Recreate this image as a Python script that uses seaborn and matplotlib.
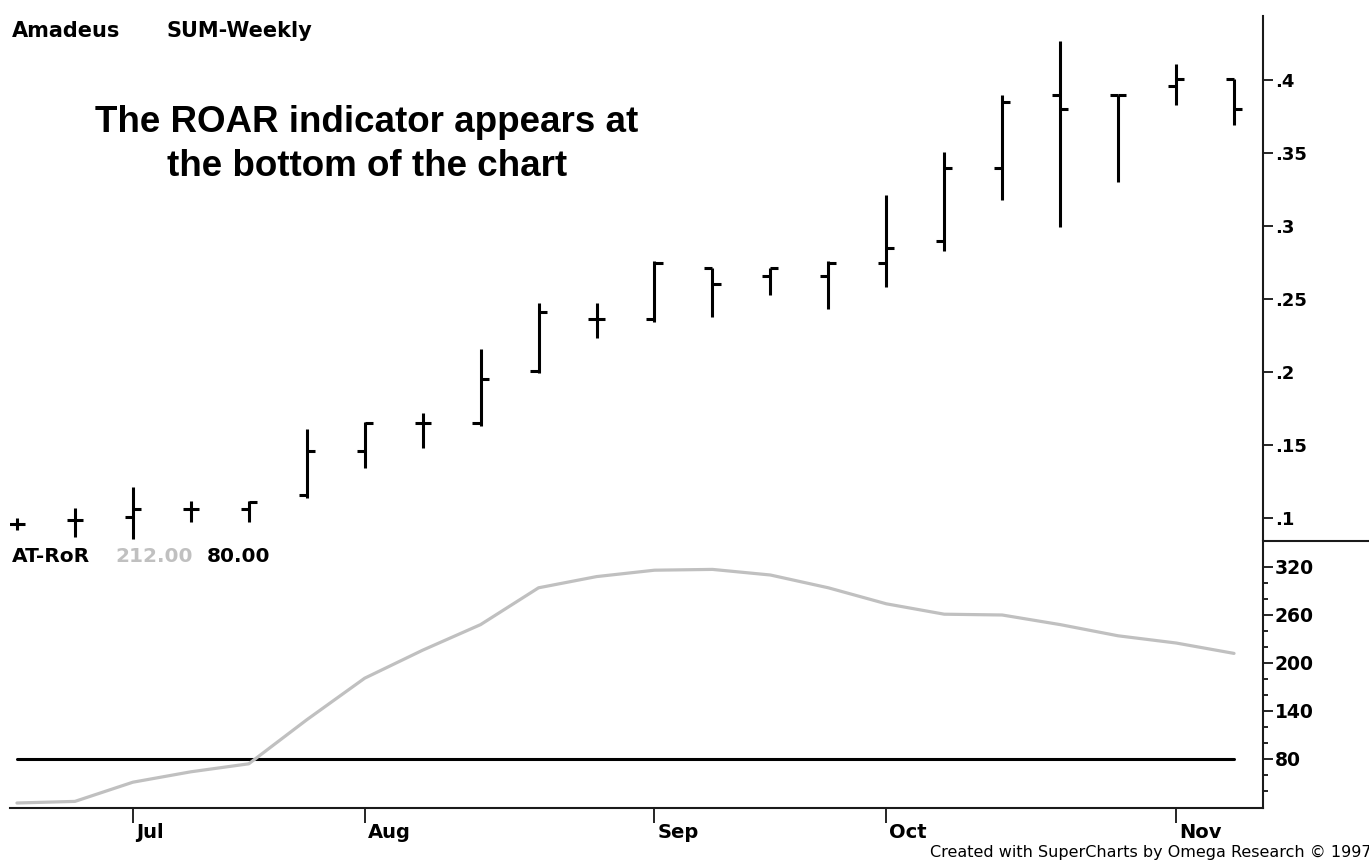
import matplotlib
matplotlib.use("Agg")
import matplotlib.pyplot as plt
import matplotlib.transforms as mtransforms
from matplotlib.lines import Line2D
import seaborn as sns
import numpy as np
import pandas as pd

# ---------------- data ----------------
opens = [0.096, 0.099, 0.101, 0.106, 0.106, 0.116, 0.146, 0.165, 0.165, 0.201, 0.236,
         0.236, 0.271, 0.266, 0.266, 0.275, 0.290, 0.340, 0.390, 0.390, 0.396, 0.401]
highs = [0.100, 0.107, 0.121, 0.112, 0.112, 0.161, 0.166, 0.172, 0.216, 0.247, 0.247,
         0.276, 0.271, 0.271, 0.276, 0.321, 0.351, 0.390, 0.427, 0.390, 0.411, 0.401]
lows = [0.092, 0.087, 0.086, 0.097, 0.097, 0.114, 0.134, 0.148, 0.163, 0.199, 0.223,
        0.234, 0.238, 0.253, 0.243, 0.258, 0.283, 0.318, 0.299, 0.330, 0.383, 0.369]
closes = [0.096, 0.099, 0.106, 0.106, 0.111, 0.146, 0.165, 0.165, 0.195, 0.241, 0.236,
          0.275, 0.260, 0.271, 0.275, 0.285, 0.340, 0.385, 0.380, 0.390, 0.401, 0.380]
ror = [25, 27, 51, 64, 74, 129, 181, 216, 248, 294, 308,
       316, 317, 310, 294, 274, 261, 260, 248, 234, 225, 212]
THRESHOLD = 80

month_labels = ["Jul", "Aug", "Sep", "Oct", "Nov"]
month_pos = [2, 6, 11, 15, 20]

price_ticks = [0.10, 0.15, 0.20, 0.25, 0.30, 0.35, 0.40]
price_tick_labels = [".1", ".15", ".2", ".25", ".3", ".35", ".4"]
ror_ticks = [80, 140, 200, 260, 320]
ror_tick_labels = ["80", "140", "200", "260", "320"]
ror_minor_ticks = [40, 60, 100, 120, 160, 180, 220, 240, 280, 300]

# ---------------- style ----------------
sns.set_style("white")
plt.rcParams["font.family"] = ["DejaVu Sans"]
plt.rcParams["font.weight"] = "bold"

W, H = 1369, 866
fig = plt.figure(figsize=(W / 100, H / 100), dpi=100)
fig.patch.set_facecolor("white")


def fx(px):
    return px / W


def fy(py):
    return 1 - py / H


ax1 = fig.add_axes([fx(10), fy(541), (1263 - 10) / W, (541 - 16) / H])
ax2 = fig.add_axes([fx(10), fy(808), (1263 - 10) / W, (808 - 541) / H], sharex=ax1)

weeks = np.arange(len(opens))
df = pd.DataFrame({"week": weeks, "ror": ror, "thr": [THRESHOLD] * len(weeks)})

# ---------------- OHLC bars ----------------
TICK = 0.14
ax1.vlines(weeks, lows, highs, color="black", lw=2.2)
ax1.hlines(opens, weeks - TICK, weeks, color="black", lw=2.2)
ax1.hlines(closes, weeks, weeks + TICK, color="black", lw=2.2)

# ---------------- indicator ----------------
sns.lineplot(data=df, x="week", y="thr", ax=ax2, color="black", lw=2.2)
sns.lineplot(data=df, x="week", y="ror", ax=ax2, color="#c0c0c0", lw=2.3)

ax1.set_xlim(-0.12, 21.5)
ax1.set_ylim(0.0843, 0.4438)
ax2.set_ylim(18.75, 352.5)

SP = "#1a1a1a"
for ax in (ax1, ax2):
    ax.grid(False)
    ax.set_xlabel("")
    ax.set_ylabel("")
    ax.set_facecolor("white")
    for s in ax.spines.values():
        s.set_visible(False)
ax1.spines["right"].set_visible(True)
ax2.spines["right"].set_visible(True)
ax2.spines["bottom"].set_visible(True)
ax1.spines["right"].set_color(SP)
ax1.spines["right"].set_linewidth(1.5)
for sname in ("right", "bottom"):
    ax2.spines[sname].set_color(SP)
    ax2.spines[sname].set_linewidth(1.5)

# price axis
ax1.yaxis.tick_right()
ax1.set_yticks(price_ticks)
ax1.set_yticklabels(price_tick_labels)
ax1.tick_params(axis="y", which="major", direction="out", length=7, width=1.2,
                pad=1.5, labelsize=13, colors="black", right=True, left=False)
ax1.tick_params(axis="x", bottom=False, labelbottom=False)

# indicator axis
ax2.yaxis.tick_right()
ax2.set_yticks(ror_ticks)
ax2.set_yticklabels(ror_tick_labels)
ax2.set_yticks(ror_minor_ticks, minor=True)
ax2.tick_params(axis="y", which="major", direction="out", length=7, width=1.2,
                pad=1.5, labelsize=13.5, colors="black", right=True, left=False)
ax2.tick_params(axis="y", which="minor", direction="out", length=3.6, width=1.2,
                colors="black", right=True, left=False)

ax2.set_xticks(month_pos)
ax2.set_xticklabels(month_labels)
ax2.tick_params(axis="x", direction="out", length=11, width=1.2, pad=0,
                labelsize=14, colors="black", bottom=True)
shift = mtransforms.ScaledTranslation(3 / 100, 0, fig.dpi_scale_trans)
for lbl in ax2.get_xticklabels():
    lbl.set_horizontalalignment("left")
    lbl.set_transform(lbl.get_transform() + shift)

# separator to the right of the axis
fig.add_artist(Line2D([fx(1263), 1.0], [fy(541), fy(541)], color=SP, lw=1.5))

# ---------------- texts ----------------
fig.text(fx(12), fy(31), "Amadeus", ha="left", va="center", fontsize=15, color="black")
fig.text(fx(167), fy(31), "SUM-Weekly", ha="left", va="center", fontsize=15, color="black")

fig.text(fx(367), fy(122), "The ROAR indicator appears at", ha="center", va="center",
         fontsize=26.5, family="Liberation Sans", fontweight="bold", color="black")
fig.text(fx(367), fy(166), "the bottom of the chart", ha="center", va="center",
         fontsize=26.5, family="Liberation Sans", fontweight="bold", color="black")

fig.text(fx(12), fy(557), "AT-RoR", ha="left", va="center", fontsize=14.5, color="black")
fig.text(fx(115), fy(557), "212.00", ha="left", va="center", fontsize=14.5, color="#c0c0c0")
fig.text(fx(207), fy(557), "80.00", ha="left", va="center", fontsize=14.5, color="black")

fig.text(fx(1371), fy(852), "Created with SuperCharts by Omega Research \u00a9 1997",
         ha="right", va="center", fontsize=11.5, fontweight="normal", color="black")

fig.savefig("out.png", dpi=100, facecolor="white")
